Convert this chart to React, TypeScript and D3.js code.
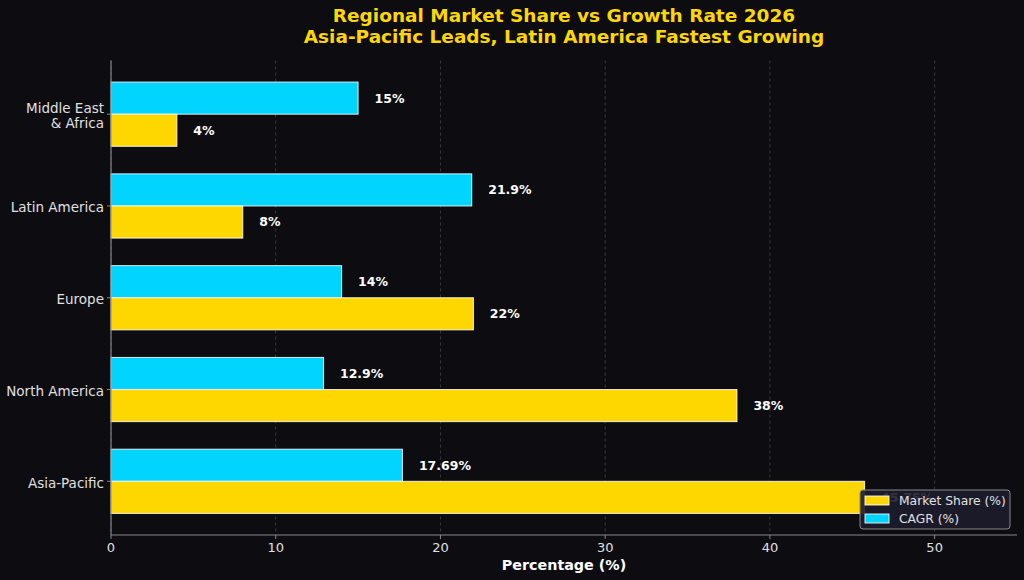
import React from "react";
import * as d3 from "d3";

const regions = ["Asia-Pacific", "North America", "Europe", "Latin America", "Middle East\n& Africa"];
const marketShare = [45.75, 38, 22, 8, 4];
const cagr = [17.69, 12.9, 14, 21.9, 15];
const xTicks = [0, 10, 20, 30, 40, 50];
const titleLines = ["Regional Market Share vs Growth Rate 2026", "Asia-Pacific Leads, Latin America Fastest Growing"];

const W = 1024, H = 580;
const m = { left: 111, right: 1017, top: 60.5, bottom: 535 };
const GOLD = "#FFD700";
const CYAN = "#00D4FF";
const BG = "#0c0c11";
const TXT = "#e0e0e0";
const FONT = "'DejaVu Sans', sans-serif";

function fmt(v: number) {
  return `${v}%`;
}

export default function App() {
  const x = d3.scaleLinear().domain([0, 55]).range([m.left, m.right]);
  const barH = 0.35;
  const y = d3.scaleLinear().domain([-0.585, regions.length - 1 + 0.585]).range([m.bottom, m.top]);
  const hPx = y(0) - y(barH);

  return (
    <svg width={W} height={H} style={{ position: "absolute", left: 0, top: 0, background: BG }} fontFamily={FONT}>
      <rect x={0} y={0} width={W} height={H} fill={BG} />
      {titleLines.map((t, i) => (
        <text key={i} x={(m.left + m.right) / 2} y={22 + i * 20.5} textAnchor="middle" fill={GOLD} fontWeight="bold" fontSize={18.5}>
          {t}
        </text>
      ))}
      {xTicks.map((t) => (
        <line key={"g" + t} x1={x(t)} x2={x(t)} y1={m.top} y2={m.bottom} stroke="#888" strokeOpacity={0.45} strokeDasharray="3,3" strokeWidth={0.8} />
      ))}
      {regions.map((r, i) => (
        <g key={r}>
          <rect x={x(0)} y={y(i + barH)} width={x(cagr[i]) - x(0)} height={hPx} fill={CYAN} stroke="#ffffff" strokeOpacity={0.85} strokeWidth={1} />
          <rect x={x(0)} y={y(i)} width={x(marketShare[i]) - x(0)} height={hPx} fill={GOLD} stroke="#ffffff" strokeOpacity={0.85} strokeWidth={1} />
          <text x={x(cagr[i] + 1)} y={y(i + barH / 2)} dy="0.35em" fill="#ffffff" fontWeight="bold" fontSize={12.5}>
            {fmt(cagr[i])}
          </text>
          <text x={x(marketShare[i] + 1)} y={y(i - barH / 2)} dy="0.35em" fill="#ffffff" fontWeight="bold" fontSize={12.5}>
            {fmt(marketShare[i])}
          </text>
        </g>
      ))}
      <line x1={m.left} x2={m.left} y1={m.top} y2={m.bottom} stroke="#888" strokeWidth={1.2} />
      <line x1={m.left} x2={m.right} y1={m.bottom} y2={m.bottom} stroke="#888" strokeWidth={1.2} />
      {xTicks.map((t) => (
        <g key={"t" + t}>
          <line x1={x(t)} x2={x(t)} y1={m.bottom} y2={m.bottom + 4} stroke="#888" />
          <text x={x(t)} y={m.bottom + 17} textAnchor="middle" fill={TXT} fontSize={13}>
            {t}
          </text>
        </g>
      ))}
      {regions.map((r, i) => {
        const lines = r.split("\n");
        const cy = y(i);
        return (
          <g key={"y" + r}>
            <line x1={m.left - 4} x2={m.left} y1={cy} y2={cy} stroke="#888" />
            {lines.map((l, j) => (
              <text key={j} x={m.left - 7} y={cy + 1.5 + (j - (lines.length - 1) / 2) * 15.5} dy="0.35em" textAnchor="end" fill={TXT} fontSize={13.5}>
                {l}
              </text>
            ))}
          </g>
        );
      })}
      <text x={(m.left + m.right) / 2} y={570} textAnchor="middle" fill="#ffffff" fontWeight="bold" fontSize={14.3}>
        Percentage (%)
      </text>
      <g>
        <rect x={860} y={490} width={150} height={39} rx={3} fill="#1c1c2c" fillOpacity={0.9} stroke="#888" strokeWidth={1} />
        <rect x={865} y={496} width={24} height={9} fill={GOLD} stroke="#ffffff" strokeOpacity={0.85} />
        <text x={899} y={500.5} dy="0.35em" fill={TXT} fontSize={12.3}>Market Share (%)</text>
        <rect x={865} y={514} width={24} height={9} fill={CYAN} stroke="#ffffff" strokeOpacity={0.85} />
        <text x={899} y={518.5} dy="0.35em" fill={TXT} fontSize={12.3}>CAGR (%)</text>
      </g>
    </svg>
  );
}
